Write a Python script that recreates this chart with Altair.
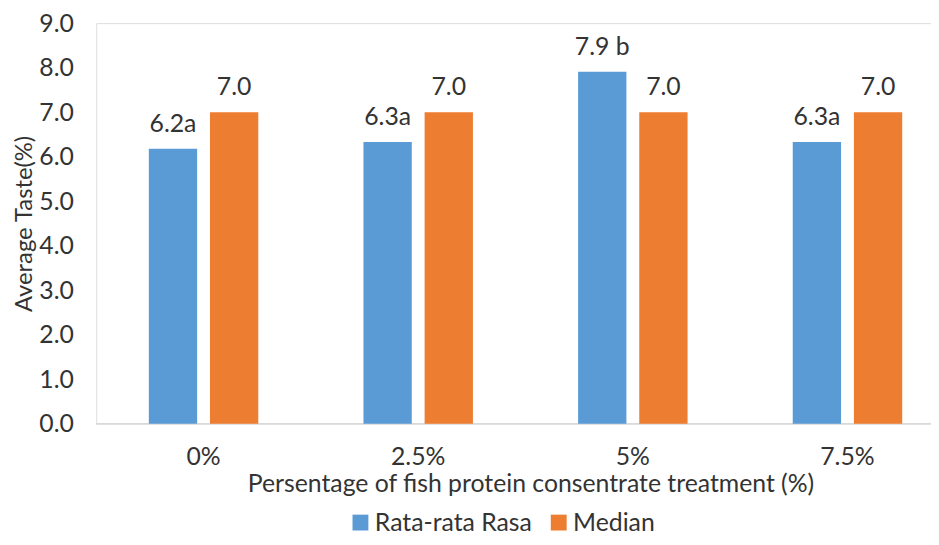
import altair as alt
import pandas as pd

categories = ["0%", "2.5%", "5%", "7.5%"]
series = ["Rata-rata Rasa", "Median"]
rata_values = [6.18, 6.33, 7.91, 6.33]
median_values = [7.0, 7.0, 7.0, 7.0]
rata_labels = ["6.2a", "6.3a", "7.9 b", "6.3a"]
median_labels = ["7.0", "7.0", "7.0", "7.0"]
colors = ["#5B9BD5", "#ED7D31"]
y_ticks = [0, 1, 2, 3, 4, 5, 6, 7, 8, 9]

rows = []
for i, c in enumerate(categories):
    rows.append({"cat": c, "series": series[0], "value": rata_values[i], "label": rata_labels[i]})
    rows.append({"cat": c, "series": series[1], "value": median_values[i], "label": median_labels[i]})
df = pd.DataFrame(rows)

FONT = "Lato"
TXT = "#333333"
FS = 25

x_enc = alt.X(
    "cat:N", sort=categories,
    scale=alt.Scale(range=[0, 866], paddingInner=0.49, paddingOuter=0.245),
    axis=alt.Axis(
        title="Persentage of fish protein consentrate treatment (%)",
        labelAngle=0, domain=False, ticks=False, labelPadding=21,
        labelFont=FONT, labelFontSize=FS, labelColor=TXT,
        titleFont=FONT, titleFontSize=FS, titleColor=TXT, titleFontWeight="normal",
        titlePadding=2, titleX=438,
    ),
)
xoff_enc = alt.XOffset("series:N", sort=series, scale=alt.Scale(paddingInner=0.21))
y_enc = alt.Y(
    "value:Q",
    scale=alt.Scale(domain=[0, 9], nice=False),
    axis=alt.Axis(
        title="Average Taste(%)", values=y_ticks, format=".1f",
        grid=False, domain=False, ticks=False, labelPadding=23,
        labelFont=FONT, labelFontSize=FS, labelColor=TXT,
        titleFont=FONT, titleFontSize=24, titleColor=TXT, titleFontWeight="normal",
        titlePadding=2,
    ),
)

bars = alt.Chart(df).mark_bar().encode(
    x=x_enc, xOffset=xoff_enc, y=y_enc,
    color=alt.Color(
        "series:N", sort=series,
        scale=alt.Scale(domain=series, range=colors),
        legend=alt.Legend(
            title=None, orient="none", direction="horizontal",
            legendX=254, legendY=491,
            symbolType="square", symbolSize=256, symbolStrokeWidth=0,
            labelFont=FONT, labelFontSize=FS, labelColor=TXT,
            columnPadding=14, labelOffset=2, symbolOffset=0,
        ),
    ),
)

texts = alt.Chart(df).mark_text(
    baseline="alphabetic", dy=-17, font=FONT, fontSize=FS, color=TXT
).encode(x=x_enc, xOffset=xoff_enc, y=y_enc, text="label:N")

base_rule = alt.Chart(pd.DataFrame({"v": [0]})).mark_rule(
    color="#d9d9d9", strokeWidth=1.5
).encode(y=alt.Y("v:Q", scale=alt.Scale(domain=[0, 9], nice=False)))

chart = alt.layer(base_rule, bars, texts).properties(
    width=842, height=404,
    autosize=alt.AutoSizeParams(type="none"),
    padding={"left": 89, "top": 13, "right": 0, "bottom": 111},
).configure_view(strokeWidth=0).configure(background="white")

chart.save("out.html", embed_options={"renderer": "svg", "actions": False})
